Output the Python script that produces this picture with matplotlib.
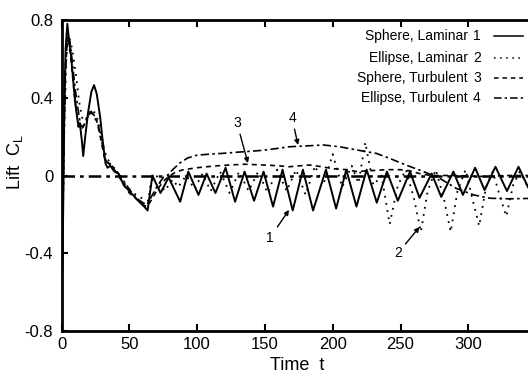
import numpy as np
import matplotlib
matplotlib.use("Agg")
import matplotlib.pyplot as plt

plt.rcParams["font.family"] = ["Liberation Sans", "DejaVu Sans"]

# (time, lift)
sphere_laminar = [
    (0, 0.0), (0.5, -0.5), (1.2, -0.2), (2, 0.3), (3, 0.65), (4.3, 0.78),
    (5.5, 0.7), (7, 0.62), (8.5, 0.5), (10, 0.38), (11.5, 0.3), (12.5, 0.25),
    (13.5, 0.27), (15, 0.18), (16, 0.1), (17.5, 0.2), (19.5, 0.32), (22, 0.43),
    (24, 0.465), (26, 0.42), (28.5, 0.3), (30.5, 0.17), (32.5, 0.06), (34, 0.04),
    (36, 0.05), (39, 0.02), (42, 0.01), (46, -0.05), (50, -0.08), (54, -0.11),
    (58, -0.14), (61, -0.16), (63.5, -0.18), (67, 0.0), (73, -0.09), (79, -0.01),
    (87.5, -0.135), (93.5, 0.02), (101, -0.10), (107, 0.01), (113.5, -0.09),
    (121, 0.04), (128, -0.135), (135, 0.02), (142, -0.13), (149, 0.02),
    (156, -0.16), (163, 0.03), (170.5, -0.18), (178, 0.03), (185.5, -0.18),
    (195, 0.03), (202.5, -0.17), (210, 0.03), (217.5, -0.16), (225, 0.03),
    (232.5, -0.14), (240, 0.02), (248, -0.13), (257, 0.02), (264, -0.115),
    (273, 0.01), (280, -0.11), (289, 0.02), (296, -0.10), (305, 0.04),
    (312, -0.075), (320, 0.045), (328.5, -0.08), (337, 0.045), (344, -0.06),
]

ellipse_laminar = [
    (0, 0.0), (0.8, -0.3), (2, 0.2), (3.5, 0.6), (5, 0.72), (7, 0.68),
    (9, 0.6), (11, 0.5), (13, 0.38), (15, 0.3), (17, 0.28), (19, 0.3),
    (22, 0.34), (25, 0.32), (27, 0.28), (29, 0.22), (31, 0.15), (33, 0.1),
    (36, 0.06), (40, 0.02), (45, -0.03), (50, -0.07), (55, -0.1), (60, -0.12),
    (64, -0.13), (66, -0.03), (70, 0.0), (76, -0.08), (82, -0.02), (86, -0.06),
    (92, 0.0), (98, -0.07), (104, 0.01), (110, -0.08), (117, 0.02), (124, -0.09),
    (131, 0.02), (138, -0.08), (145, 0.02), (152, -0.09), (159, 0.03),
    (166, -0.08), (173, 0.03), (180, -0.1), (187, 0.05), (193, -0.05),
    (200, 0.11), (207, -0.06), (214, 0.05), (219, -0.04), (224, 0.17),
    (230, -0.05), (236, 0.0), (242, -0.25), (248, -0.05), (254, 0.03),
    (260, -0.12), (265, -0.29), (270, -0.08), (276, 0.03), (282, -0.12),
    (287, -0.29), (292, -0.08), (298, 0.03), (303, -0.12), (308, -0.26),
    (313, -0.06), (318, 0.02), (323, -0.1), (328, -0.21), (333, -0.05),
    (338, 0.02), (344, -0.06),
]

sphere_turbulent = [
    (0, 0.0), (0.6, -0.45), (1.5, 0.1), (2.5, 0.5), (4, 0.7), (5.5, 0.68),
    (7, 0.6), (9, 0.45), (11, 0.33), (13, 0.25), (15, 0.24), (17, 0.27),
    (20, 0.31), (22, 0.33), (24, 0.3), (26, 0.28), (28, 0.22), (30, 0.15),
    (32, 0.08), (35, 0.06), (38, 0.04), (42, 0.0), (46, -0.05), (50, -0.09),
    (55, -0.12), (60, -0.15), (63, -0.16), (66, -0.13), (70, -0.08),
    (75, -0.03), (80, 0.0), (85, 0.02), (90, 0.03), (100, 0.04), (107, 0.045),
    (115, 0.05), (124, 0.054), (135, 0.058), (149, 0.054), (160, 0.05),
    (168, 0.045), (176, 0.05), (183, 0.054), (192, 0.045), (200, 0.035),
    (210, 0.03), (218, 0.02), (228, 0.025), (240, 0.03), (250, 0.03),
    (256, 0.025), (264, 0.01), (272, 0.0), (290, 0.0), (310, -0.005),
    (330, 0.0), (344, 0.0),
]

ellipse_turbulent = [
    (0, 0.0), (0.7, -0.4), (1.8, 0.2), (3, 0.55), (4.5, 0.72), (6, 0.7),
    (8, 0.58), (10, 0.45), (12, 0.35), (14, 0.26), (16, 0.25), (18, 0.28),
    (21, 0.32), (23, 0.32), (25, 0.3), (27, 0.26), (29, 0.2), (31, 0.13),
    (33, 0.07), (36, 0.06), (40, 0.03), (44, -0.01), (48, -0.05), (52, -0.09),
    (56, -0.12), (60, -0.14), (63, -0.15), (67, -0.1), (71, -0.05),
    (75, -0.01), (78, 0.0), (82, 0.03), (87, 0.063), (93, 0.09), (100, 0.105),
    (110, 0.11), (119, 0.114), (130, 0.12), (140, 0.125), (149, 0.13),
    (160, 0.14), (168, 0.148), (180, 0.152), (193, 0.157), (205, 0.148),
    (218, 0.131), (232, 0.114), (242, 0.088), (254, 0.054), (267, 0.02),
    (279, -0.015), (291, -0.066), (304, -0.10), (316, -0.117), (330, -0.12),
    (344, -0.118),
]

legend_names = ["Sphere, Laminar", "Ellipse, Laminar",
                "Sphere, Turbulent", "Ellipse, Turbulent"]
legend_ids = ["1", "2", "3", "4"]

x_ticks = [0, 50, 100, 150, 200, 250, 300]
y_ticks = [0.8, 0.4, 0, -0.4, -0.8]
y_tick_labels = ["0.8", "0.4", "0", "-0.4", "-0.8"]

styles = ["-", (0, (1, 3)), (0, (3, 2.5)), (0, (5, 2, 1.5, 2))]
widths = [1.4, 1.3, 1.2, 1.2]

fig = plt.figure(figsize=(5.28, 3.74), dpi=100)
ax = fig.add_axes([61.5 / 528, 43 / 374, 1 - 61.5 / 528, 311 / 374])

ax.axhline(0, color="black", lw=1.8, ls=(0, (5, 2, 1.5, 2)))

series = [sphere_laminar, ellipse_laminar, sphere_turbulent, ellipse_turbulent]
for data, ls, lw in zip(series, styles, widths):
    arr = np.array(data)
    ax.plot(arr[:, 0], arr[:, 1], color="black", ls=ls, lw=lw)

ax.set_xlim(0, 344)
ax.set_ylim(-0.8, 0.8)
ax.set_xticks(x_ticks)
ax.set_yticks(y_ticks)
ax.set_yticklabels(y_tick_labels)
ax.tick_params(axis="x", direction="in", top=True, length=5, width=1.5,
               labelsize=12, pad=4)
ax.tick_params(axis="y", direction="in", length=4, width=1.5,
               labelsize=12, pad=6)
for side in ["left", "top", "bottom"]:
    ax.spines[side].set_linewidth(2)
ax.spines["right"].set_visible(False)

# legend drawn by hand: text right-aligned, sample at the right
rows = [0.9495, 0.8794, 0.8119, 0.7476]
for name, num, ls, y in zip(legend_names, legend_ids, styles, rows):
    ax.text(0.8714, y, name, transform=ax.transAxes, ha="right",
            va="center", fontsize=10)
    ax.text(0.8904, y, num, transform=ax.transAxes, ha="center",
            va="center", fontsize=10)
    ax.plot([0.927, 0.99], [y, y], transform=ax.transAxes, color="black",
            ls=ls, lw=1.1, clip_on=False)

arrow = dict(arrowstyle="-|>", color="black", lw=1.0,
             mutation_scale=7, shrinkA=1, shrinkB=0)
ax.annotate("1", xy=(167.8, -0.177), xytext=(153.8, -0.32),
            ha="center", va="center", fontsize=10, arrowprops=arrow)
ax.annotate("2", xy=(264, -0.265), xytext=(248, -0.40),
            ha="center", va="center", fontsize=10, arrowprops=arrow)
ax.annotate("3", xy=(137.5, 0.064), xytext=(129.4, 0.27),
            ha="center", va="center", fontsize=10, arrowprops=arrow)
ax.annotate("4", xy=(174.4, 0.157), xytext=(170, 0.296),
            ha="center", va="center", fontsize=10, arrowprops=arrow)

fig.text(297 / 528, 1 - 366 / 374, "Time  t", ha="center", va="center",
         fontsize=13)
fig.text(15 / 528, 1 - 162 / 374, r"Lift  C$_\mathregular{L}$",
         ha="center", va="center", rotation=90, fontsize=13)

fig.savefig("out.png", dpi=100)
